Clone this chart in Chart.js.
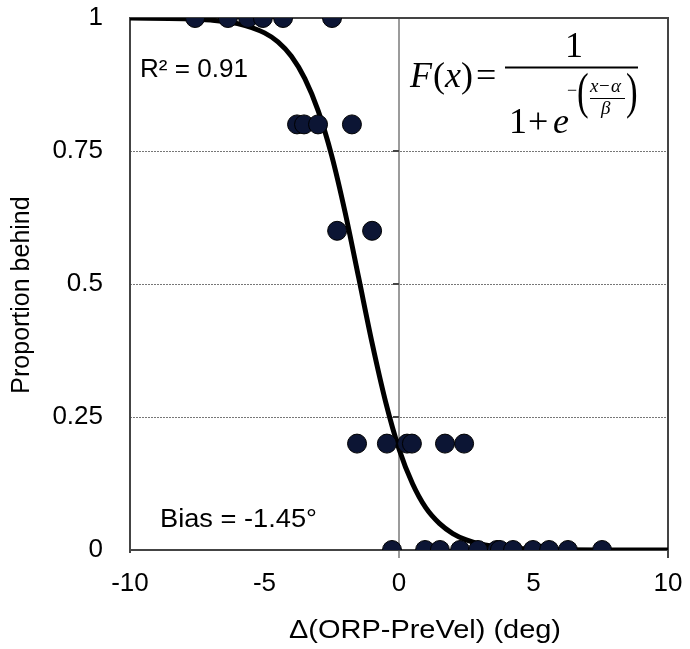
<!DOCTYPE html>
<html>
<head>
<meta charset="utf-8">
<script src="https://cdn.jsdelivr.net/npm/chart.js@4.4.1/dist/chart.umd.min.js"></script>
<style>
html,body{margin:0;padding:0;background:#fff;}
#wrap{width:690px;height:649px;}
</style>
</head>
<body>
<div id="wrap"><canvas id="c" width="690" height="649"></canvas></div>
<script>
// Observed data points (x: deg, y: proportion behind)
const obsX = [-7.58, -6.36, -5.61, -5.06, -4.31, -2.49,
              -3.79, -3.53, -3.01, -1.75,
              -2.30, -1.00,
              -1.56, -0.45, 0.30, 0.48, 1.71, 2.42,
              -0.26, 0.97, 1.52, 2.27, 2.94, 3.64, 3.75, 4.24, 4.98, 5.58, 6.28, 7.55];
const obsY = [1, 1, 1, 1, 1, 1,
              0.8, 0.8, 0.8, 0.8,
              0.6, 0.6,
              0.2, 0.2, 0.2, 0.2, 0.2, 0.2,
              0, 0, 0, 0, 0, 0, 0, 0, 0, 0, 0, 0];
// Fitted curve
const fitX = [-10, -8, -7, -6, -5, -4.5, -4, -3.5, -3, -2.5, -2, -1.5, -1, -0.5, 0, 0.5, 1, 1.5, 2, 2.5, 3, 4, 5, 6, 8, 10];
const fitY = [0.9998, 0.9986, 0.996, 0.9895, 0.972, 0.955, 0.928, 0.886, 0.825, 0.741, 0.634, 0.512, 0.389, 0.279, 0.19, 0.125, 0.079, 0.05, 0.031, 0.019, 0.0115, 0.0043, 0.0016, 0.0006, 0.0001, 0];
const xTicks = [-10, -5, 0, 5, 10];
const xTickLabels = ['-10', '-5', '0', '5', '10'];
const yTicks = [0, 0.25, 0.5, 0.75, 1];
const yTickLabels = ['0', '0.25', '0.5', '0.75', '1'];
const xTitle = 'Δ(ORP-PreVel) (deg)';
const yTitle = 'Proportion behind';
const r2Text = 'R² = 0.91';
const biasText = 'Bias = -1.45°';

const SANS = '"Liberation Sans", Arial, sans-serif';
const SERIF = '"Liberation Serif", "Times New Roman", serif';

const obsPts = obsX.map((x, i) => ({x, y: obsY[i]}));
const fitPts = fitX.map((x, i) => ({x, y: fitY[i]}));

function fitText(ctx, text, left, baseline, width) {
  const w = ctx.measureText(text).width;
  ctx.save();
  ctx.translate(left, baseline);
  ctx.scale(width / w, 1);
  ctx.textAlign = 'left';
  ctx.fillText(text, 0, 0);
  ctx.restore();
}

const framePlugin = {
  id: 'frame',
  beforeDatasetsDraw(chart) {
    const {ctx, chartArea: a, scales} = chart;
    ctx.save();
    const x0 = scales.x.getPixelForValue(0);
    ctx.strokeStyle = '#7a7a7a';
    ctx.lineWidth = 1.5;
    ctx.beginPath();
    ctx.moveTo(x0, a.top); ctx.lineTo(x0, a.bottom + 8);
    ctx.stroke();
    // small tick marks on the vertical axis
    ctx.strokeStyle = '#444';
    ctx.lineWidth = 2;
    yTicks.forEach(v => {
      const py = scales.y.getPixelForValue(v);
      ctx.beginPath(); ctx.moveTo(x0 - 6, py); ctx.lineTo(x0, py); ctx.stroke();
    });
    // frame
    ctx.strokeStyle = '#444';
    ctx.lineWidth = 2;
    ctx.strokeRect(a.left, a.top, a.right - a.left, a.bottom - a.top);
    ctx.beginPath();
    ctx.moveTo(a.right, a.bottom); ctx.lineTo(a.right, a.bottom + 8);
    ctx.moveTo(a.left, a.bottom); ctx.lineTo(a.left, a.bottom + 3);
    ctx.stroke();
    ctx.restore();
  },
  afterDraw(chart) {
    const {ctx} = chart;
    ctx.save();
    ctx.fillStyle = '#000';
    ctx.font = '26px ' + SANS;
    ctx.textBaseline = 'alphabetic';
    fitText(ctx, r2Text, 140, 77, 108);
    fitText(ctx, biasText, 160, 527, 157);
    fitText(ctx, xTitle, 289, 638, 272);
    // y axis title
    ctx.font = '25px ' + SANS;
    ctx.textAlign = 'center';
    ctx.textBaseline = 'middle';
    ctx.save();
    ctx.translate(22, 295);
    ctx.rotate(-Math.PI / 2);
    ctx.fillText(yTitle, 0, 0);
    ctx.restore();

    // formula F(x) = 1 / (1 + e^-((x-α)/β))
    ctx.textAlign = 'left';
    ctx.textBaseline = 'alphabetic';
    let x = 410;
    const base = 87;
    const seg = (t, font, y) => { ctx.font = font; ctx.fillText(t, x, y); x += ctx.measureText(t).width; };
    seg('F', 'italic 36px ' + SERIF, base);
    x += 1;
    seg('(', '36px ' + SERIF, base);
    seg('x', 'italic 36px ' + SERIF, base);
    seg(')', '36px ' + SERIF, base);
    ctx.font = '36px ' + SERIF;
    ctx.fillText('=', 476, base);
    ctx.lineWidth = 1.8;
    ctx.strokeStyle = '#000';
    ctx.beginPath(); ctx.moveTo(505, 67.5); ctx.lineTo(638, 67.5); ctx.stroke();
    ctx.textAlign = 'center';
    ctx.font = '36px ' + SERIF;
    ctx.fillText('1', 574, 57);
    ctx.textAlign = 'left';
    ctx.fillText('1', 509, 133);
    ctx.fillText('+', 528, 133);
    ctx.font = 'italic 36px ' + SERIF;
    ctx.fillText('e', 553, 133);
    ctx.font = '18px ' + SERIF;
    ctx.fillText('\u2212', 567, 96);
    // tall parentheses
    ctx.font = '50px ' + SERIF;
    ctx.save(); ctx.translate(577, 108); ctx.scale(0.7, 1); ctx.fillText('(', 0, 0); ctx.restore();
    ctx.save(); ctx.translate(626, 108); ctx.scale(0.7, 1); ctx.fillText(')', 0, 0); ctx.restore();
    ctx.font = 'italic 19px ' + SERIF;
    ctx.fillText('x', 590, 92);
    ctx.font = '19px ' + SERIF;
    ctx.fillText('\u2212', 599, 92);
    ctx.font = 'italic 19px ' + SERIF;
    ctx.fillText('α', 611, 92);
    ctx.lineWidth = 1.2;
    ctx.beginPath(); ctx.moveTo(590, 98.5); ctx.lineTo(625, 98.5); ctx.stroke();
    ctx.fillText('β', 601, 114);
    ctx.restore();
  }
};

new Chart(document.getElementById('c'), {
  type: 'scatter',
  data: {
    datasets: [
      {
        label: 'Observed',
        data: obsPts,
        backgroundColor: '#0c1534',
        borderColor: '#000',
        borderWidth: 1,
        pointRadius: 9.5,
        pointHoverRadius: 9.5
      },
      {
        label: 'Fit',
        data: fitPts,
        showLine: true,
        borderColor: '#000',
        borderWidth: 5,
        pointRadius: 0,
        pointHoverRadius: 0,
        cubicInterpolationMode: 'monotone',
        fill: false
      }
    ]
  },
  options: {
    responsive: false,
    animation: false,
    devicePixelRatio: 1,
    layout: {padding: {top: 18, right: 22, left: 0, bottom: 0}},
    plugins: {legend: {display: false}, tooltip: {enabled: false}},
    scales: {
      x: {
        type: 'linear',
        min: -10, max: 10,
        afterBuildTicks: s => { s.ticks = xTicks.map(v => ({value: v})); },
        afterFit: s => { s.height = 99; s.paddingLeft = 0; s.paddingRight = 0; s.paddingTop = 0; s.paddingBottom = 0; },
        ticks: {
          callback: (v) => { const i = xTicks.indexOf(v); return i >= 0 ? xTickLabels[i] : ''; },
          font: {family: SANS, size: 26},
          color: '#000',
          padding: 18,
          maxRotation: 0,
          autoSkip: false
        },
        grid: {
          display: true,
          drawOnChartArea: false,
          drawTicks: false,
          color: 'rgba(0,0,0,0)'
        },
        border: {display: false}
      },
      y: {
        type: 'linear',
        min: 0, max: 1,
        afterBuildTicks: s => { s.ticks = yTicks.map(v => ({value: v})); },
        afterFit: s => { s.width = 130; s.paddingTop = 0; s.paddingBottom = 0; s.paddingLeft = 0; s.paddingRight = 0; },
        ticks: {
          callback: (v) => { const i = yTicks.indexOf(v); return i >= 0 ? yTickLabels[i] : ''; },
          font: {family: SANS, size: 26},
          color: '#000',
          padding: 27
        },
        grid: {
          drawTicks: false,
          color: (c) => (c.tick && (c.tick.value === 0 || c.tick.value === 1)) ? 'rgba(0,0,0,0)' : '#777',
          lineWidth: 1
        },
        border: {display: false, dash: [2, 1]}
      }
    }
  },
  plugins: [framePlugin]
});
</script>
</body>
</html>
